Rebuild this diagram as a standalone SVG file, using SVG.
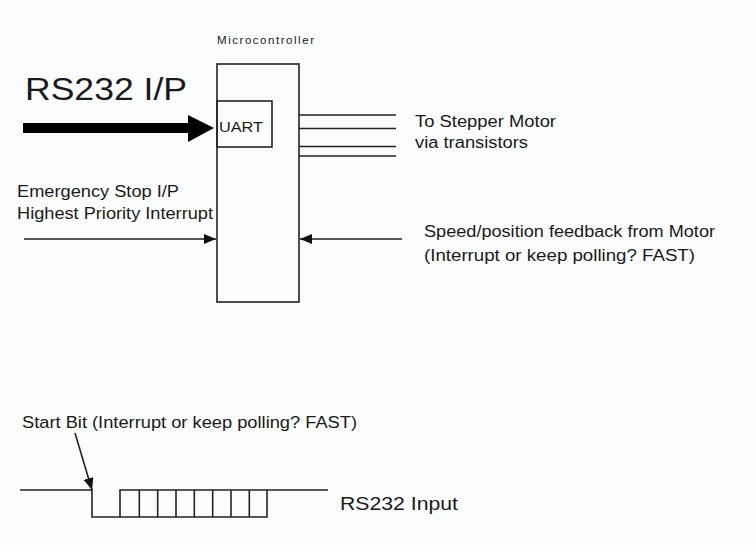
<svg xmlns="http://www.w3.org/2000/svg" width="756" height="545" viewBox="0 0 756 545">
<style>
text{font-family:"Liberation Sans",Arial,sans-serif;fill:#1a1a1a}
.ln{stroke:#222;stroke-width:1.6;fill:none}
</style>
<defs>
<marker id="ah" markerWidth="12" markerHeight="10" refX="12" refY="5" orient="auto" markerUnits="userSpaceOnUse">
<path d="M0,0 L12,5 L0,10 z" fill="#111"/>
</marker>
</defs>
<rect width="756" height="545" fill="#fafcfc"/>
<g id="microcontroller">
<rect x="217" y="64" width="82" height="238" class="ln"/>
<text x="217" y="44" font-size="11.5" textLength="97" lengthAdjust="spacing">Microcontroller</text>
</g>
<g id="uart">
<rect x="217" y="101" width="55" height="46" class="ln"/>
<text x="219" y="132" font-size="15.5" textLength="44" lengthAdjust="spacingAndGlyphs">UART</text>
</g>
<g id="rs232-ip">
<text x="25" y="100" font-size="31" textLength="162" lengthAdjust="spacingAndGlyphs">RS232 I/P</text>
</g>
<g id="emergency">
<text x="17" y="197" font-size="16" textLength="162" lengthAdjust="spacingAndGlyphs">Emergency Stop I/P</text>
<text x="17" y="219" font-size="16" textLength="196" lengthAdjust="spacingAndGlyphs">Highest Priority Interrupt</text>
</g>
<g id="stepper">
<text x="415" y="127" font-size="16" textLength="141" lengthAdjust="spacingAndGlyphs">To Stepper Motor</text>
<text x="415" y="148" font-size="16" textLength="113" lengthAdjust="spacingAndGlyphs">via transistors</text>
</g>
<g id="feedback">
<text x="424" y="237" font-size="16" textLength="291" lengthAdjust="spacingAndGlyphs">Speed/position feedback from Motor</text>
<text x="424" y="261" font-size="16" textLength="271" lengthAdjust="spacingAndGlyphs">(Interrupt or keep polling? FAST)</text>
</g>
<g id="waveform">
<path class="ln" d="M20,490 H92 V517 H267 V490 H120 V517 M139.3,490 V517 M157.7,490 V517 M176,490 V517 M194.3,490 V517 M212.7,490 V517 M231,490 V517 M249.3,490 V517 M267,490 H328"/>
<text x="22" y="428" font-size="16" textLength="335" lengthAdjust="spacingAndGlyphs">Start Bit (Interrupt or keep polling? FAST)</text>
<text x="340" y="510" font-size="19" textLength="118" lengthAdjust="spacingAndGlyphs">RS232 Input</text>
</g>
<g id="connectors">
<path d="M23,123 H188 V115 L214,128 L188,142 V133 H23 z" fill="#000"/>
<line x1="299" y1="115" x2="396" y2="115" class="ln"/>
<line x1="299" y1="128.5" x2="396" y2="128.5" class="ln"/>
<line x1="299" y1="146.5" x2="396" y2="146.5" class="ln"/>
<line x1="299" y1="156" x2="396" y2="156" class="ln"/>
<line x1="24" y1="239" x2="216" y2="239" class="ln" marker-end="url(#ah)"/>
<line x1="402" y1="239" x2="300" y2="239" class="ln" marker-end="url(#ah)"/>
<line x1="75" y1="433" x2="92" y2="490" class="ln" marker-end="url(#ah)"/>
</g>
</svg>
